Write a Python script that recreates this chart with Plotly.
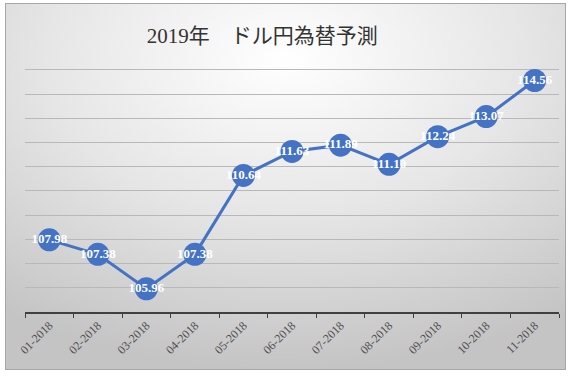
import base64
import plotly.graph_objects as go

months = ["01-2018", "02-2018", "03-2018", "04-2018", "05-2018", "06-2018",
          "07-2018", "08-2018", "09-2018", "10-2018", "11-2018"]
rates = [107.98, 107.38, 105.96, 107.38, 110.64, 111.63, 111.89, 111.10, 112.24, 113.07, 114.56]
title_text = "2019年　ドル円為替予測"

W, H = 574, 378
L, R, T, B = 25, 15, 65, 66
pw, ph = W - L - R, H - T - B

def px_to_paper_x(px):
    return (px - L) / pw

def px_to_paper_y(py):
    return (H - B - py) / ph

svg = ('<svg xmlns="http://www.w3.org/2000/svg" width="561" height="367" preserveAspectRatio="none">'
       '<defs><radialGradient id="g" cx="50%" cy="15%" r="85%">'
       '<stop offset="0" stop-color="#ffffff"/><stop offset="0.5" stop-color="#e6e6e6"/>'
       '<stop offset="1" stop-color="#c4c4c4"/></radialGradient></defs>'
       '<rect width="561" height="367" fill="url(#g)" stroke="#a6a6a6" stroke-width="2"/></svg>')
src = "data:image/svg+xml;base64," + base64.b64encode(svg.encode()).decode()

serif = "Liberation Serif, Times New Roman, Noto Sans CJK JP, serif"

fig = go.Figure()
fig.add_trace(go.Scatter(
    x=months, y=rates, mode="lines+markers+text",
    line=dict(color="#4472C4", width=3),
    marker=dict(color="#4472C4", size=23),
    text=[f"<b>{v:.2f}</b>" for v in rates], textposition="middle center",
    textfont=dict(family=serif, size=13, color="white"),
    cliponaxis=False, hoverinfo="skip",
))

fig.update_layout(
    width=W, height=H,
    margin=dict(l=L, r=R, t=T, b=B, pad=0),
    paper_bgcolor="white", plot_bgcolor="rgba(0,0,0,0)",
    showlegend=False,
    title=dict(text=title_text, x=0.457, xanchor="center", y=0.905, yanchor="middle",
               font=dict(family=serif, size=21, color="#333333")),
    images=[dict(source=src, xref="paper", yref="paper",
                 x=px_to_paper_x(5), y=px_to_paper_y(3),
                 sizex=561 / pw, sizey=367 / ph,
                 xanchor="left", yanchor="top", sizing="stretch", layer="below")],
)
fig.update_xaxes(
    type="category", range=[-0.5, 10.5], tickson="boundaries",
    ticks="outside", ticklen=4, tickcolor="#404040",
    showline=True, linecolor="#404040", linewidth=1.5, showgrid=False,
    tickangle=-45, tickfont=dict(family=serif, size=12, color="#505050"),
)
fig.update_yaxes(
    range=[105, 115.2], tickvals=list(range(106, 116)), showgrid=True,
    gridcolor="#b8b8b8", gridwidth=1,
    showticklabels=False, zeroline=False, showline=False,
)

fig.write_html("out.html", config={"displayModeBar": False},
               post_script="document.body.style.margin='0';document.body.style.padding='0';")
